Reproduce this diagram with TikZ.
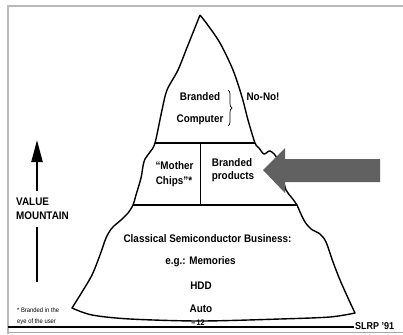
\documentclass[tikz,border=0pt]{standalone}
\usepackage{fontspec}
\setmainfont{Liberation Sans}[FakeStretch=0.9]
\usetikzlibrary{arrows.meta,decorations.pathreplacing}

\begin{document}
\begin{tikzpicture}[x=1pt, y=-1pt,
    label/.style={font=\fontsize{11}{12}\selectfont\bfseries, inner sep=0pt},
    note/.style={font=\fontsize{6.5}{11}\selectfont, inner sep=0pt, align=left},
    ridge/.style={line width=1.4pt, line join=round},
    divider/.style={line width=1.1pt}]
        \useasboundingbox (0,0) rectangle (403,334);
        % frame of the slide
        \draw [gray!55, line width=1.2pt] (8,334) -- (8,6) -- (403,6);
        \draw [black, line width=1.6pt] (8,327) -- (354,327);
        \draw [gray!70, line width=0.8pt] (8,332) -- (403,332);
        % the mountain
        \draw [ridge] plot[smooth, tension=0.5] coordinates {(200,15) (188,45) (178,70) (167,90) (162,110) (155,143)
            (150,152) (145,159) (143,166) (141,178) (136,195) (133,205)
            (128,213) (121,220) (112,228) (106,238) (100,255) (92,275) (82,292) (72,308)}
          -- plot[smooth, tension=0.5] coordinates {(72,308) (92,315) (130,319) (200,321) (280,319) (330,317) (355,313)}
          -- plot[smooth, tension=0.5] coordinates {(355,313) (348,298) (340,280) (333,262) (326,242) (320,234)
            (311,229) (305,222) (300,212) (297,205) (292,198) (286,190) (282,175) (277,158) (270,151)
            (264,154) (259,148) (255,143) (248,120) (242,97) (233,70) (220,43) (207,24) (200,15)};
        \draw [divider] (155,143) -- (255,143);
        \draw [divider] (133,205) -- (297,205);
        \draw [divider] (200.5,143) -- (200.5,205);
        % top: no-no
        \node [label] (brand) at (200,97) {Branded};
        \node [label] (comp) at (200,120) {Computer};
        \coordinate (bracetop) at (228,90);
        \coordinate (bracebot) at (228,126);
        \draw [line width=0.7pt, decorate, decoration={brace, amplitude=4pt}] (bracetop) -- (bracebot);
        \node [label] (nono) at (263,97) {No-No!};
        % middle
        \node [label] (mother) at (174.5,166) {“Mother};
        \node [label] (chips) at (174,182) {Chips”*};
        \node [label] (brandp) at (232,163) {Branded};
        \node [label] (prod) at (233,177) {products};
        \fill [black!62] (263,170) -- (285,148) -- (285,159) -- (380,159) -- (380,182) -- (285,182) -- (285,193) -- cycle;
        % bottom
        \node [label] (classic) at (207.5,239) {Classical Semiconductor Business:};
        \node [label] (memo) at (200.5,262) {e.g.: Memories};
        \node [label] (hdd) at (201,286) {HDD};
        \node [label] (auto) at (201,309) {Auto};
        \node [font=\fontsize{8}{9}\selectfont\bfseries, inner sep=0pt] (page) at (198,323) {--\,12};
        % value mountain
        \node [label, align=left, anchor=west] (value) at (16,208.5) {VALUE\\[2pt]MOUNTAIN};
        \coordinate (vtop) at (37,140);
        \coordinate (vup) at (37,191);
        \coordinate (vdown) at (37,227);
        \coordinate (vbot) at (37,282);
        \draw [line width=2.2pt, -{Triangle[length=22pt, width=11pt]}] (vup) -- (vtop);
        \draw [line width=2.2pt] (vdown) -- (vbot);
        \node [note, anchor=west] (foot) at (17,316) {* Branded in the\\eye of the user};
        \node [font=\fontsize{10}{10}\selectfont\bfseries, inner sep=0pt, anchor=west] (slrp) at (355,326) {SLRP '91};
\end{tikzpicture}
\end{document}
